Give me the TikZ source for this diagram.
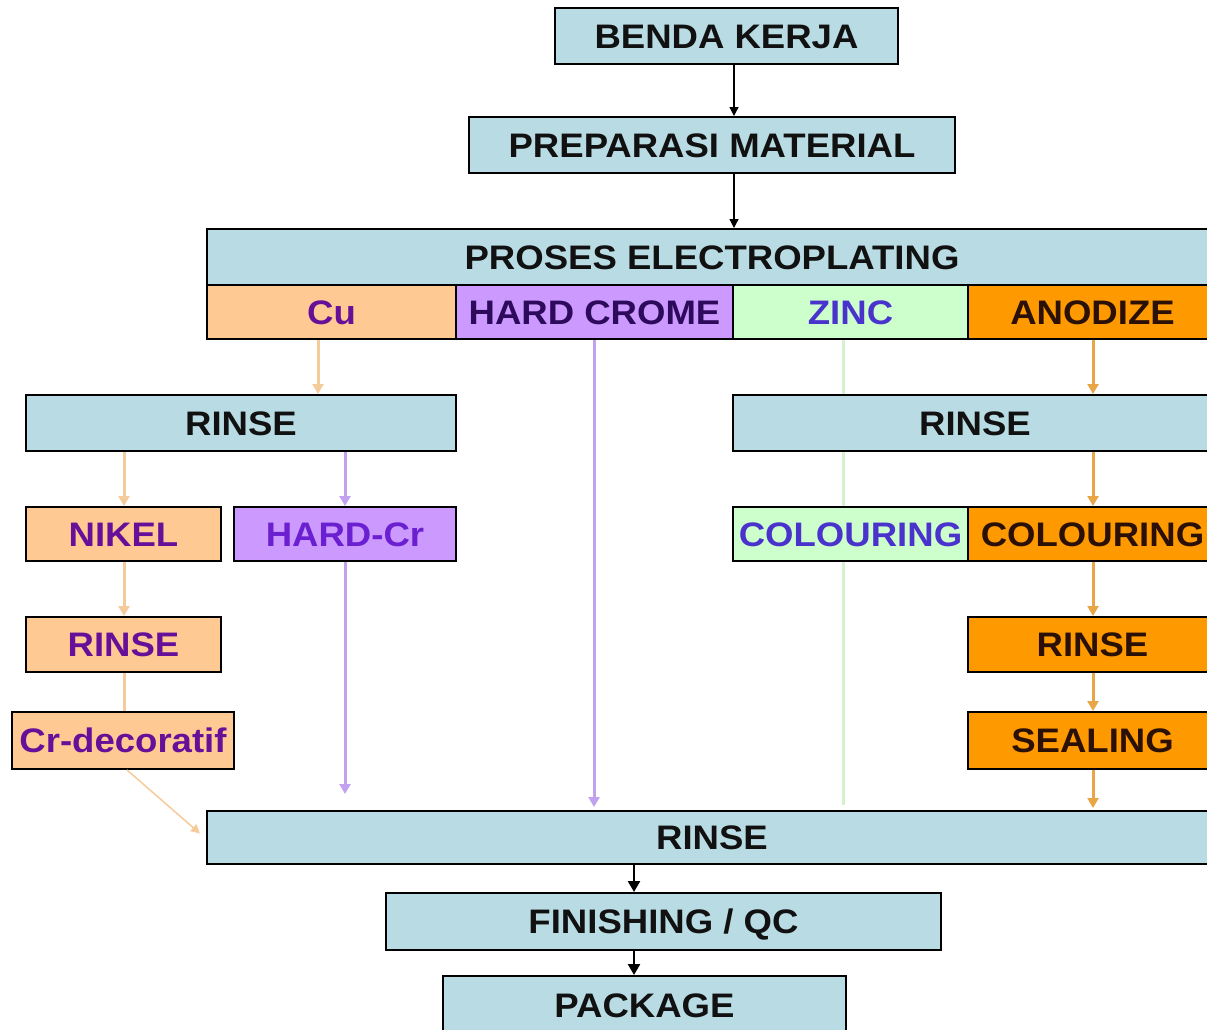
\documentclass[tikz,border=0pt]{standalone}
\usepackage{fontspec}
\setmainfont{Liberation Sans}[FakeStretch=1.075]
\usetikzlibrary{arrows.meta,calc}
\definecolor{boxblue}{HTML}{B9DCE4}
\definecolor{peach}{HTML}{FFC994}
\definecolor{lilac}{HTML}{CC99FF}
\definecolor{mint}{HTML}{CCFFCC}
\definecolor{orng}{HTML}{FF9900}
\definecolor{txtdark}{HTML}{111111}
\definecolor{txtpurple}{HTML}{661099}
\definecolor{txtdeep}{HTML}{2E0A5C}
\definecolor{txtviolet}{HTML}{6A1FD0}
\definecolor{txtblue}{HTML}{4A33CC}
\definecolor{txtbrown}{HTML}{2A1005}
\definecolor{apeach}{HTML}{F6CB9C}
\definecolor{alilac}{HTML}{C2A2EE}
\definecolor{amint}{HTML}{D4F3CC}
\definecolor{aorng}{HTML}{E9A647}
\tikzset{
  pbox/.style={draw=black, line width=2pt, inner sep=0pt, text height=24pt, text depth=0pt,
    font=\fontsize{34}{36}\selectfont\bfseries, anchor=center},
  blue/.style={pbox, fill=boxblue, text=txtdark},
  pch/.style={pbox, fill=peach, text=txtpurple},
  lil/.style={pbox, fill=lilac},
  mnt/.style={pbox, fill=mint, text=txtblue},
  org/.style={pbox, fill=orng, text=txtbrown},
  blk/.style={draw=black, line width=1.3pt, -{Triangle[length=9pt,width=9pt]}},
  blkthick/.style={draw=black, line width=2.5pt, -{Triangle[length=11pt,width=12pt]}},
  carr/.style={line width=3pt, -{Triangle[length=10pt,width=11pt]}},
  cline/.style={line width=3pt},
}
\begin{document}
\begin{tikzpicture}[x=1pt,y=-1pt]
\useasboundingbox (0,0) rectangle (1207,1029);
\clip (0,0) rectangle (1207,1029);
% top chain
\node[blue, minimum width=343pt, minimum height=56pt] (benda) at (726.5,36) {BENDA KERJA};
\node[blue, minimum width=486pt, minimum height=56pt] (prep) at (712,145) {PREPARASI MATERIAL};
\node[blue, minimum width=1010pt, minimum height=56pt] (proses) at (712,257) {PROSES ELECTROPLATING};
% process row
\node[pch, minimum width=249pt, minimum height=54pt] (cu) at (331.5,312) {Cu};
\node[lil, text=txtdeep, minimum width=277pt, minimum height=54pt] (hc) at (594.5,312) {HARD CROME};
\node[mnt, minimum width=235pt, minimum height=54pt] (zinc) at (850.5,312) {ZINC};
\node[org, minimum width=249pt, minimum height=54pt] (anod) at (1092.5,312) {ANODIZE};
% rinse row
\node[blue, minimum width=430pt, minimum height=56pt] (rinseL) at (241,423) {RINSE};
\node[blue, minimum width=484pt, minimum height=56pt] (rinseR) at (975,423) {RINSE};
% third row
\node[pch, minimum width=195pt, minimum height=54pt] (nikel) at (123.5,534) {NIKEL};
\node[lil, text=txtviolet, minimum width=222pt, minimum height=54pt] (hardcr) at (345,534) {HARD-Cr};
\node[mnt, minimum width=235pt, minimum height=54pt] (colZ) at (850.5,534) {COLOURING};
\node[org, minimum width=249pt, minimum height=54pt] (colA) at (1092.5,534) {COLOURING};
% fourth row
\node[pch, minimum width=195pt, minimum height=55pt] (rinseS) at (123.5,644.5) {RINSE};
\node[org, minimum width=249pt, minimum height=55pt] (rinseA) at (1092.5,644.5) {RINSE};
% fifth row
\node[pch, minimum width=222pt, minimum height=57pt] (crdec) at (123,740.5) {Cr-decoratif};
\node[org, minimum width=249pt, minimum height=57pt] (sealing) at (1092.5,740.5) {SEALING};
% bottom chain
\node[blue, minimum width=1010pt, minimum height=53pt] (rinseB) at (712,837.5) {RINSE};
\node[blue, minimum width=555pt, minimum height=57pt] (finish) at (663.5,921.5) {FINISHING / QC};
\node[blue, minimum width=403pt, minimum height=58pt] (package) at (644.5,1005) {PACKAGE};
% x positions of connectors
\coordinate (xa) at (734,0);
\coordinate (xcu) at (318,0);
\coordinate (xni) at (124,0);
\coordinate (xhc) at (345,0);
\coordinate (xhcr) at (594,0);
\coordinate (xzn) at (843,0);
\coordinate (xan) at (1093,0);
\coordinate (xb) at (634,0);
% black connectors
\draw[blk] (benda.south -| xa) -- (prep.north -| xa);
\draw[blk] (prep.south -| xa) -- (proses.north -| xa);
\draw[blkthick] (rinseB.south -| xb) -- (finish.north -| xb);
\draw[blkthick] (finish.south -| xb) -- (package.north -| xb);
% Cu branch
\draw[carr, apeach] (cu.south -| xcu) -- (rinseL.north -| xcu);
\draw[carr, apeach] (rinseL.south -| xni) -- (nikel.north -| xni);
\draw[carr, apeach] (nikel.south -| xni) -- (rinseS.north -| xni);
\draw[cline, apeach] (rinseS.south -| xni) -- (crdec.north -| xni);
\draw[line width=1.5pt, apeach, -{Triangle[length=9pt,width=9pt]}] ($(crdec.south)+(4,0)$) -- ($(rinseB.west)+(-6,-4)$);
\draw[carr, alilac] (rinseL.south -| xhc) -- (hardcr.north -| xhc);
\draw[carr, alilac] (hardcr.south -| xhc) -- ($(rinseB.north -| xhc)+(0,-16)$);
% hard crome
\draw[carr, alilac] (hc.south -| xhcr) -- ($(rinseB.north -| xhcr)+(0,-3)$);
% zinc
\draw[cline, amint] (zinc.south -| xzn) -- (rinseR.north -| xzn);
\draw[cline, amint] (rinseR.south -| xzn) -- (colZ.north -| xzn);
\draw[cline, amint] (colZ.south -| xzn) -- ($(rinseB.north -| xzn)+(0,-5)$);
% anodize
\draw[carr, aorng] (anod.south -| xan) -- (rinseR.north -| xan);
\draw[carr, aorng] (rinseR.south -| xan) -- (colA.north -| xan);
\draw[carr, aorng] (colA.south -| xan) -- (rinseA.north -| xan);
\draw[carr, aorng] (rinseA.south -| xan) -- (sealing.north -| xan);
\draw[carr, aorng] (sealing.south -| xan) -- ($(rinseB.north -| xan)+(0,-2)$);
\end{tikzpicture}
\end{document}
